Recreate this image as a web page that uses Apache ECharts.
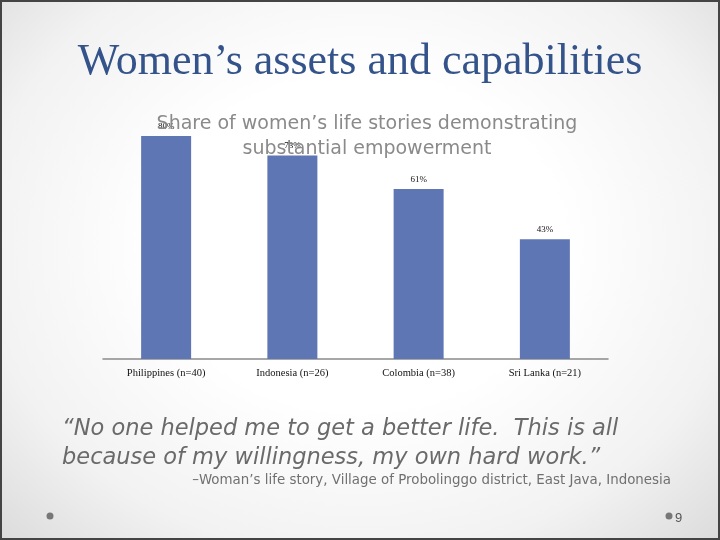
<!DOCTYPE html>
<html>
<head>
<meta charset="utf-8">
<script src="https://cdn.jsdelivr.net/npm/echarts@6/dist/echarts.min.js"></script>
<style>
  html, body { margin: 0; padding: 0; }
  #main {
    width: 716px; height: 536px;
    border: 2px solid #444;
    background: radial-gradient(ellipse at 50% 45%, #ffffff 40%, #f2f2f2 75%, #dcdcdc 100%);
  }
</style>
</head>
<body>
<div id="main"></div>
<script type="text/javascript">
    var categories = ['Philippines (n=40)', 'Indonesia (n=26)', 'Colombia (n=38)', 'Sri Lanka (n=21)'];
    var shares = [80, 73, 61, 43];

    var myChart = echarts.init(document.getElementById('main'));
    var gothic = '"DejaVu Sans", sans-serif';

    var option = {
        title: [{
            text: 'Women\u2019s assets and capabilities',
            left: 'center', top: 33,
            textStyle: { fontFamily: '"Liberation Serif", serif', fontSize: 44, fontWeight: 'normal', color: '#34538a' }
        }, {
            text: 'Share of women\u2019s life stories demonstrating\nsubstantial empowerment',
            left: 360, top: 105, textAlign: 'center',
            textStyle: { fontFamily: gothic, fontSize: 19, fontWeight: 'normal', color: '#8a8a8a', lineHeight: 25, align: 'center' }
        }, {
            text: '\u201cNo one helped me to get a better life.  This is all\nbecause of my willingness, my own hard work.\u201d',
            left: 55, top: 408,
            textStyle: { fontFamily: gothic, fontSize: 22.5, fontStyle: 'italic', fontWeight: 'normal', color: '#6a6a6a', lineHeight: 29 }
        }, {
            text: '\u2013Woman\u2019s life story, Village of Probolinggo district, East Java, Indonesia',
            right: 42, top: 467,
            textStyle: { fontFamily: gothic, fontSize: 13.4, fontWeight: 'normal', color: '#707070' }
        }, {
            text: '9',
            left: 668, top: 505,
            textStyle: { fontFamily: '"Liberation Sans", sans-serif', fontSize: 13, fontWeight: 'normal', color: '#555' }
        }],
        graphic: [
            { type: 'circle', shape: { cx: 48, cy: 514, r: 3.5 }, style: { fill: '#777' } },
            { type: 'circle', shape: { cx: 667, cy: 514, r: 3.5 }, style: { fill: '#777' } }
        ],
        grid: { left: 101, right: 110, top: 134, bottom: 179 },
        xAxis: {
            type: 'category',
            data: categories,
            axisLine: { lineStyle: { color: '#8a8a8a', width: 1.5 } },
            axisTick: { show: false },
            axisLabel: { fontFamily: '"Liberation Serif", serif', fontSize: 10.5, color: '#111', margin: 9 }
        },
        yAxis: {
            type: 'value', min: 0, max: 80,
            show: false,
            splitLine: { show: false }
        },
        series: [{
            type: 'bar',
            data: shares,
            barWidth: 50,
            itemStyle: { color: '#5f76b5' },
            label: {
                show: true, position: 'top', distance: 5,
                formatter: '{c}%',
                fontFamily: '"Liberation Serif", serif', fontSize: 9, color: '#111'
            },
            z: 1
        }]
    };
    myChart.setOption(option);
</script>
</body>
</html>
